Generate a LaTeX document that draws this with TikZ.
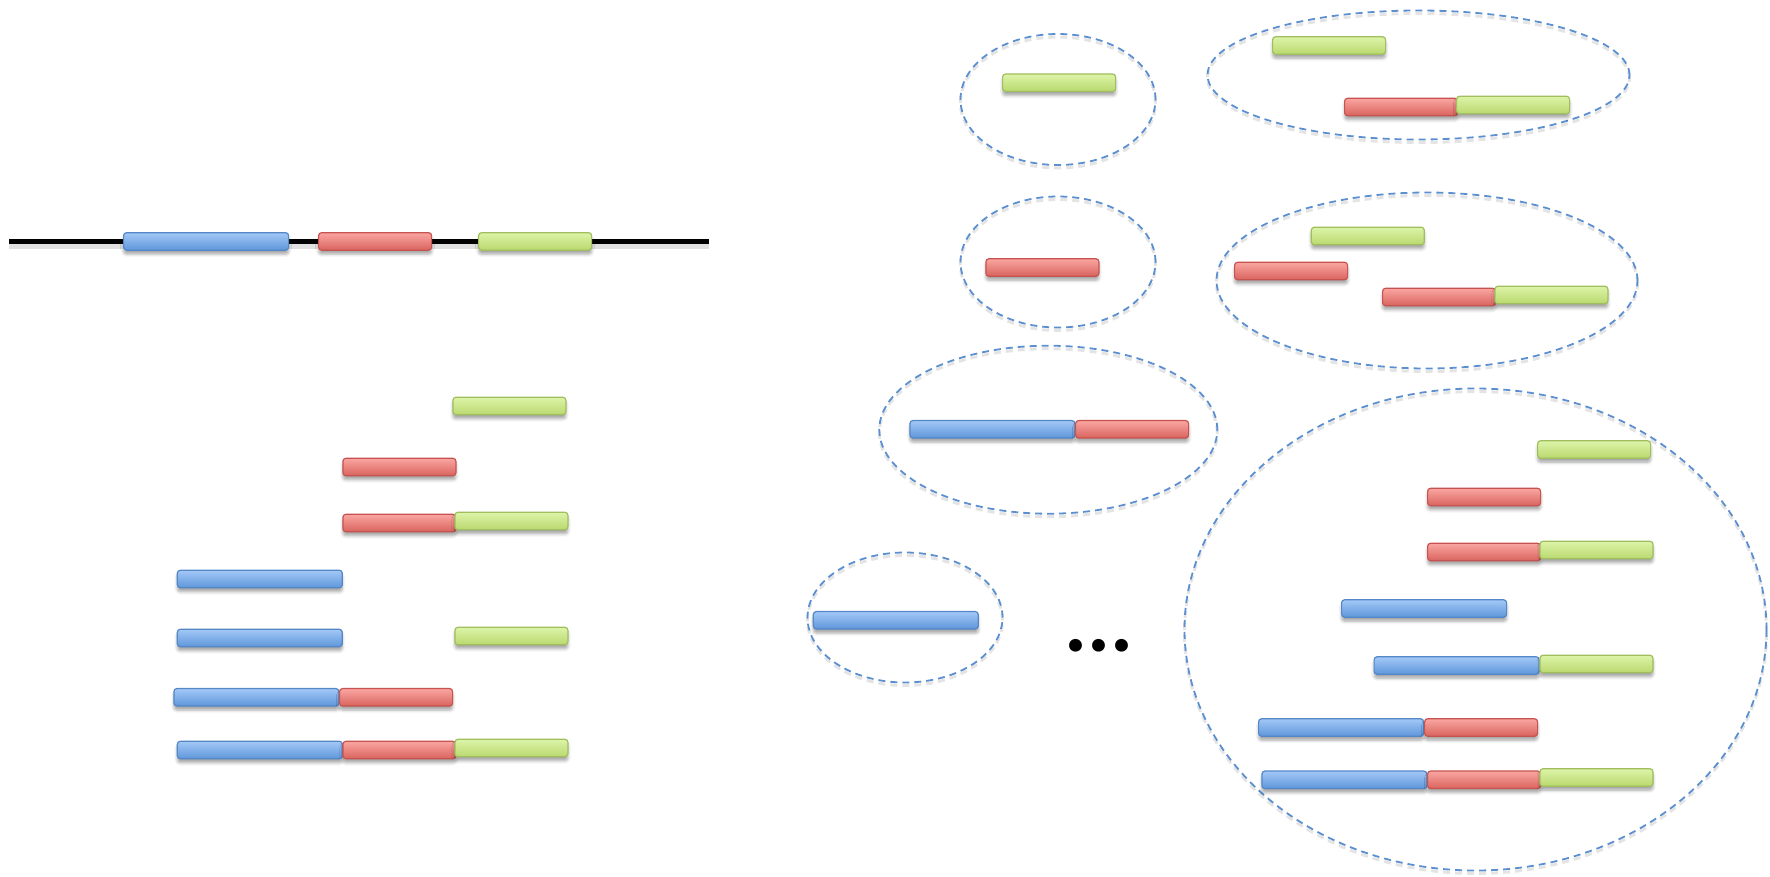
\documentclass[tikz,border=0pt]{standalone}
\usepackage{fontspec}
\newfontfamily\dotsfont{Carlito}
\usetikzlibrary{shapes.geometric,shadows.blur}

\definecolor{blueTop}{HTML}{A3C8F7}
\definecolor{blueBot}{HTML}{5E96DA}
\definecolor{blueEdge}{HTML}{5487C6}
\definecolor{redTop}{HTML}{FAA6A2}
\definecolor{redBot}{HTML}{D9635D}
\definecolor{redEdge}{HTML}{C6534F}
\definecolor{greenTop}{HTML}{DDF4A8}
\definecolor{greenBot}{HTML}{B9D86E}
\definecolor{greenEdge}{HTML}{A0BE5E}
\definecolor{grpLine}{HTML}{5B8FD0}

\tikzset{
  bar/.style={rectangle, rounded corners=3pt, inner sep=0pt, minimum height=17.5pt,
    line width=1.2pt, anchor=west,
    blur shadow={shadow xshift=0pt, shadow yshift=-4pt, shadow blur radius=3pt, shadow opacity=35}},
  bluebar/.style={bar, minimum width=165pt, draw=blueEdge, top color=blueTop, bottom color=blueBot},
  redbar/.style={bar, minimum width=113pt, draw=redEdge, top color=redTop, bottom color=redBot},
  greenbar/.style={bar, minimum width=113pt, draw=greenEdge, top color=greenTop, bottom color=greenBot},
  grp/.style={ellipse, inner sep=0pt, draw=grpLine, line width=1.8pt, dash pattern=on 7pt off 5pt,
    preaction={draw=black!35, opacity=0.3, line width=3pt, dash pattern=on 7pt off 5pt,
      transform canvas={yshift=-3pt}}},
  dnaline/.style={line width=5pt, black},
  dnashadow/.style={line width=6pt, black!30, opacity=0.4},
}

\begin{document}
\begin{tikzpicture}[x=1pt,y=-1pt]
  \useasboundingbox (0,0) rectangle (1770,876);

  % ---- reference sequence with its three exons ----
  \coordinate (lineL) at (9,241.6);
  \coordinate (lineR) at (709,241.6);
  \draw[dnashadow] ([yshift=-4pt]lineL) -- ([yshift=-4pt]lineR);
  \draw[dnaline] (lineL) -- (lineR);
  \node[bluebar]  (refB) at (123,241.4) {};
  \node[redbar]   (refR) at (318,241.4) {};
  \node[greenbar] (refG) at (478,241.4) {};

  % ---- reads (left column) ----
  \node[greenbar] (l1g) at (452.3,406) {};
  \node[redbar]   (l2r) at (342.3,467) {};
  \node[redbar]   (l3r) at (342.3,523) {};
  \node[greenbar] (l3g) at (454.3,521) {};
  \node[bluebar]  (l4b) at (176.7,579) {};
  \node[bluebar]  (l5b) at (176.7,638) {};
  \node[greenbar] (l5g) at (454.3,636) {};
  \node[bluebar]  (l6b) at (173.3,697.3) {};
  \node[redbar]   (l6r) at (339,697.3) {};
  \node[bluebar]  (l7b) at (176.7,750) {};
  \node[redbar]   (l7r) at (342.3,750) {};
  \node[greenbar] (l7g) at (454.3,748) {};

  % ---- clusters (dashed groups) ----
  \node[grp, minimum width=195pt, minimum height=131pt] (e1) at (1058,99.5) {};
  \node[grp, minimum width=195pt, minimum height=131pt] (e2) at (1058,262) {};
  \node[grp, minimum width=422pt, minimum height=129pt] (e3) at (1418.5,75) {};
  \node[grp, minimum width=421pt, minimum height=176pt] (e4) at (1427,280.5) {};
  \node[grp, minimum width=338pt, minimum height=168pt] (e5) at (1048.3,429.7) {};
  \node[grp, minimum width=195pt, minimum height=130pt] (e6) at (905,617.5) {};
  \node[grp, minimum width=582pt, minimum height=482pt] (e7) at (1475.5,629.5) {};

  % cluster 1
  \node[greenbar] (c1g) at (1002,82.7) {};
  % cluster 2
  \node[redbar]   (c2r) at (985.3,267.5) {};
  % cluster 3
  \node[greenbar] (c3g1) at (1272,45.5) {};
  \node[redbar]   (c3r)  at (1344,107) {};
  \node[greenbar] (c3g2) at (1456,105) {};
  % cluster 4
  \node[greenbar] (c4g1) at (1310.7,236) {};
  \node[redbar]   (c4r1) at (1234,271) {};
  \node[redbar]   (c4r2) at (1382,297) {};
  \node[greenbar] (c4g2) at (1494.3,295) {};
  % cluster 5
  \node[bluebar]  (c5b) at (909.3,429.3) {};
  \node[redbar]   (c5r) at (1075,429.3) {};
  % cluster 6
  \node[bluebar]  (c6b) at (812.7,620.3) {};
  % cluster 7
  \node[greenbar] (c7g1) at (1537,449.5) {};
  \node[redbar]   (c7r1) at (1427,497) {};
  \node[redbar]   (c7r2) at (1427,552) {};
  \node[greenbar] (c7g2) at (1539.4,550) {};
  \node[bluebar]  (c7b1) at (1341,608.5) {};
  \node[bluebar]  (c7b2) at (1373.5,665.5) {};
  \node[greenbar] (c7g3) at (1539.4,664) {};
  \node[bluebar]  (c7b3) at (1258,727.5) {};
  \node[redbar]   (c7r3) at (1424,727.5) {};
  \node[bluebar]  (c7b4) at (1261.3,779.8) {};
  \node[redbar]   (c7r4) at (1427,779.8) {};
  \node[greenbar] (c7g4) at (1539.4,777.5) {};

  % ellipsis between the clusters
  \node[anchor=base, inner sep=0pt, font=\dotsfont\bfseries\fontsize{86}{86}\selectfont] (more) at (1099,651) {...};
\end{tikzpicture}
\end{document}
